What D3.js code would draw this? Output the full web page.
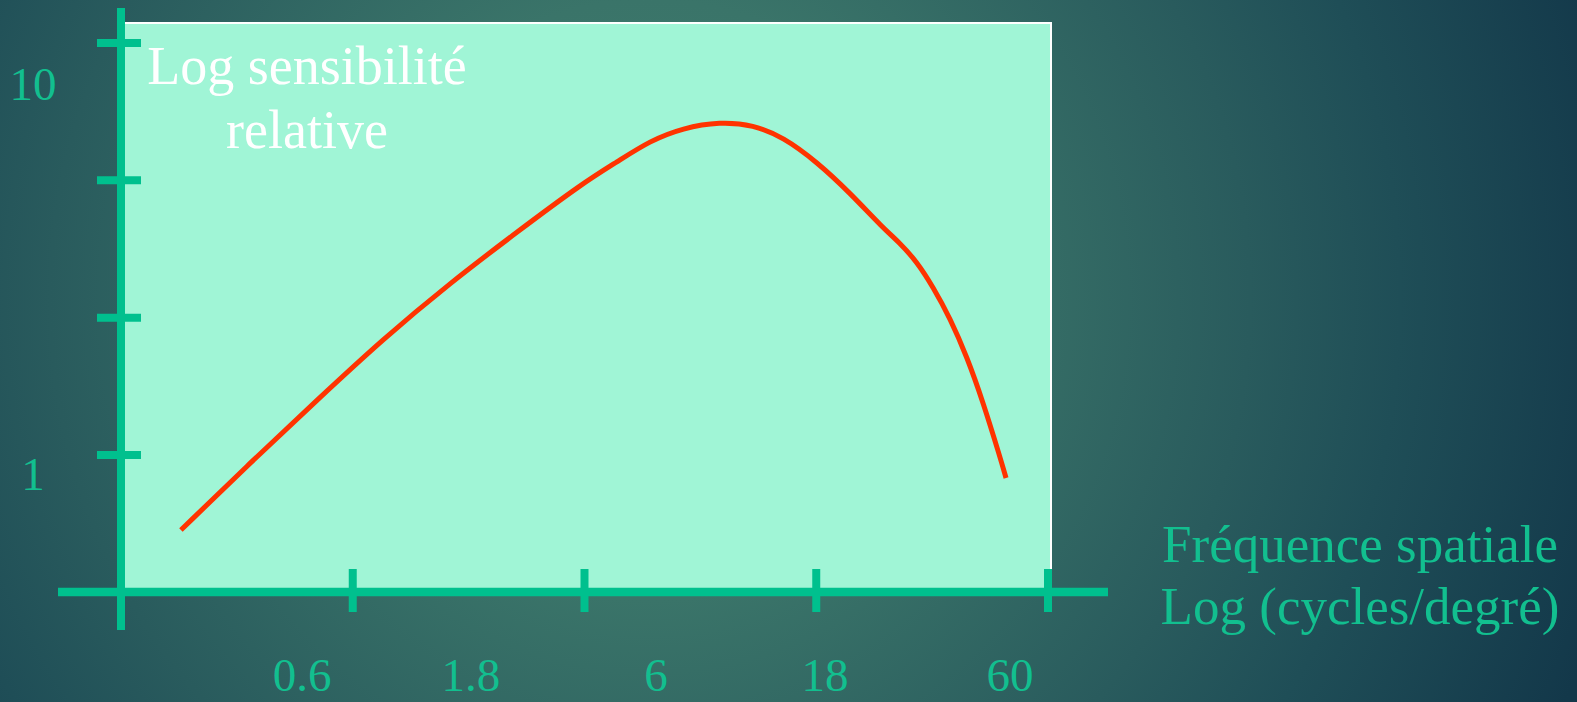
<!DOCTYPE html>
<html>
<head>
<meta charset="utf-8">
<script src="https://cdn.jsdelivr.net/npm/d3@7"></script>
<style>
  html, body { margin: 0; padding: 0; overflow: hidden; background: #22545a; }
  svg { display: block; }
</style>
</head>
<body>
<svg id="chart" width="1577" height="702"></svg>
<script>
// ---- data ----
const freq = [0.273, 0.428, 0.662, 1.016, 1.572, 2.43, 3.73, 4.66, 5.77, 7.15, 9.10, 11.3, 13.71, 17.10, 21.20, 26.27, 29.34, 32.77, 36.37, 40.62, 45.37, 50.35, 56.23, 58.47];
const sens = [0.716, 1.064, 1.544, 2.214, 3.084, 4.169, 5.569, 6.31, 7.15, 7.71, 8.0, 7.85, 7.31, 6.306, 5.252, 4.268, 3.906, 3.491, 3.011, 2.507, 1.991, 1.526, 1.102, 0.974];
const xTickLabels = [0.6, 1.8, 6, 18, 60];
const yTickLabels = [1, 10];
const xTickMarks = [0, 1, 2, 3, 4];
const yTickMarks = [0, 1, 2, 3];
const yTitle = ["Log sensibilité", "relative"];
const xTitle = ["Fréquence spatiale", "Log (cycles/degré)"];

// ---- layout ----
const W = 1577, H = 702;
const svg = d3.select("#chart");
const axisColor = "#00c08e";
const labelColor = "#12bf8f";
const serif = "'Liberation Serif', 'Times New Roman', serif";

// background gradient
const defs = svg.append("defs");
const rg = defs.append("radialGradient").attr("id", "bg")
  .attr("gradientUnits", "userSpaceOnUse")
  .attr("cx", 650).attr("cy", 300).attr("r", 1000);
[[0, "#40806f"], [0.3, "#3a7469"], [0.6, "#295b5d"], [0.75, "#1f4e57"], [1, "#13384a"]]
  .forEach(([o, c]) => rg.append("stop").attr("offset", o).attr("stop-color", c));
svg.append("rect").attr("width", W).attr("height", H).attr("fill", "url(#bg)");

// scales
const x = d3.scaleLog().domain([0.6, 60]).range([302, 1010]);
const y = d3.scaleLog().domain([1, 10]).range([473.5, 84]);
const xt = d3.scaleLinear().domain([0, 4]).range([121, 1048]);
const yt = d3.scaleLinear().domain([0, 3]).range([455, 43]);

const axisY = 592, axisX = 121;
const plotTop = 23, plotRight = 1051;

// plot panel
svg.append("rect")
  .attr("x", axisX).attr("y", plotTop)
  .attr("width", plotRight - axisX).attr("height", axisY - plotTop)
  .attr("fill", "#a0f5d6");
svg.append("path")
  .attr("d", `M${axisX},${plotTop} H${plotRight} V${axisY}`)
  .attr("fill", "none").attr("stroke", "#ffffff").attr("stroke-width", 2);

// y title (inside panel)
svg.append("text")
  .attr("text-anchor", "middle")
  .attr("font-family", serif).attr("font-size", 54).attr("fill", "#ffffff")
  .selectAll("tspan").data(yTitle).join("tspan")
  .attr("x", 307).attr("y", (d, i) => i === 0 ? 84 : 148)
  .text(d => d);

// curve
const line = d3.line()
  .x((d, i) => x(freq[i]))
  .y((d, i) => y(sens[i]))
  .curve(d3.curveBasis);
svg.append("path")
  .datum(freq)
  .attr("d", line)
  .attr("fill", "none")
  .attr("stroke", "#ff3300")
  .attr("stroke-width", 5);

// axes lines
svg.append("line")
  .attr("x1", 58).attr("x2", 1108).attr("y1", axisY).attr("y2", axisY)
  .attr("stroke", axisColor).attr("stroke-width", 8.5);
svg.append("line")
  .attr("x1", axisX).attr("x2", axisX).attr("y1", 8).attr("y2", 630)
  .attr("stroke", axisColor).attr("stroke-width", 8);

// x tick marks
svg.selectAll(".xtick").data(xTickMarks).join("line")
  .attr("class", "xtick")
  .attr("x1", d => xt(d)).attr("x2", d => xt(d))
  .attr("y1", 569).attr("y2", 612)
  .attr("stroke", axisColor).attr("stroke-width", 8);

// y tick marks
svg.selectAll(".ytick").data(yTickMarks).join("line")
  .attr("class", "ytick")
  .attr("x1", 97).attr("x2", 141)
  .attr("y1", d => yt(d)).attr("y2", d => yt(d))
  .attr("stroke", axisColor).attr("stroke-width", 8);

// x tick labels
svg.selectAll(".xlab").data(xTickLabels).join("text")
  .attr("class", "xlab")
  .attr("x", d => x(d)).attr("y", 691)
  .attr("text-anchor", "middle")
  .attr("font-family", serif).attr("font-size", 47).attr("fill", labelColor)
  .text(d => d);

// y tick labels
svg.selectAll(".ylab").data(yTickLabels).join("text")
  .attr("class", "ylab")
  .attr("x", 33).attr("y", d => y(d) + 16)
  .attr("text-anchor", "middle")
  .attr("font-family", serif).attr("font-size", 47).attr("fill", labelColor)
  .text(d => d);

// x title
svg.append("text")
  .attr("text-anchor", "middle")
  .attr("font-family", serif).attr("font-size", 53).attr("fill", labelColor)
  .selectAll("tspan").data(xTitle).join("tspan")
  .attr("x", 1360).attr("y", (d, i) => i === 0 ? 562 : 624)
  .text(d => d);
</script>
</body>
</html>
